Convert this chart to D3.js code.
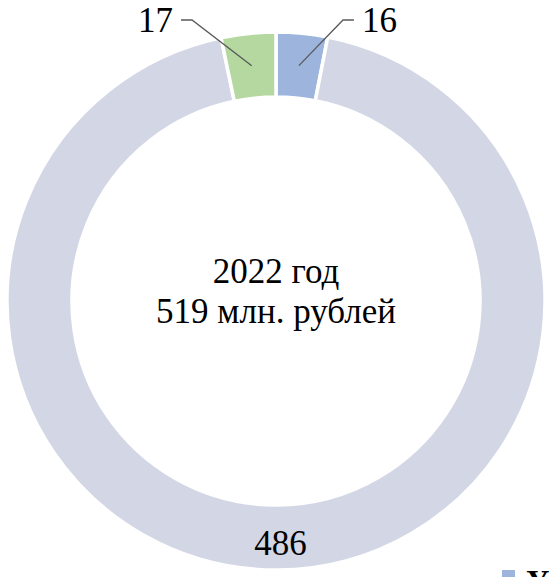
<!DOCTYPE html>
<html>
<head>
<meta charset="utf-8">
<script src="https://cdn.jsdelivr.net/npm/d3@7"></script>
</head>
<body style="margin:0">
<svg id="chart" width="549" height="577"></svg>
<script>
// Structure of 2022 amounts, mln. rubles
const categories = ["Уставный капитал", "Прочие средства", "Собственные средства"];
const values = [16, 486, 17];
const colors = ["#9db5dd", "#d3d6e5", "#b5d8a0"];
const centerLines = ["2022 год", "519 млн. рублей"];

const cx = 276, cy = 301;
const rOuter = 269, rInner = 204;
const fontSize = 35;

const svg = d3.select("#chart");
const g = svg.append("g").attr("transform", `translate(${cx},${cy})`);

const data = categories.map((c, i) => ({ name: c, value: values[i], color: colors[i] }));

const pie = d3.pie().value(d => d.value).sort(null);
const arc = d3.arc().innerRadius(rInner).outerRadius(rOuter);
const midR = (rInner + rOuter) / 2;
const midArc = d3.arc().innerRadius(midR).outerRadius(midR);

const arcs = pie(data);

g.selectAll("path.slice")
  .data(arcs)
  .join("path")
  .attr("class", "slice")
  .attr("d", arc)
  .attr("fill", d => d.data.color)
  .attr("stroke", "#fff")
  .attr("stroke-width", 3.5);

// Label records in page coordinates; texts are placed directly on the svg
const leaderY = cy - rOuter - 12;
const leaderX = { 0: 67, 2: -84 };   // elbow x offset from centre per slice
const tail = 11;
const labels = [];

arcs.forEach((a, i) => {
  const [mx, my] = midArc.centroid(a);
  if (leaderX[i] !== undefined) {
    const ex = cx + leaderX[i];
    const dir = leaderX[i] >= 0 ? 1 : -1;
    svg.append("polyline")
      .attr("points", [[cx + mx, cy + my], [ex, leaderY], [ex + dir * tail, leaderY]].map(p => p.join(",")).join(" "))
      .attr("fill", "none")
      .attr("stroke", "#595959")
      .attr("stroke-width", 1.3);
    labels.push({ text: String(a.data.value), x: ex + dir * (tail + 8), y: leaderY + 0.34 * fontSize,
                  anchor: dir > 0 ? "start" : "end", size: fontSize, weight: "normal" });
  } else {
    labels.push({ text: String(a.data.value), x: cx + mx + 3, y: cy + my + 0.5 * fontSize,
                  anchor: "middle", size: fontSize, weight: "normal" });
  }
});

// Centre caption
centerLines.forEach((line, i) => {
  labels.push({ text: line, x: cx, y: cy - 18 + i * 40, anchor: "middle", size: fontSize, weight: "normal" });
});

// Legend (continues beyond the lower right edge)
svg.append("rect")
  .attr("x", 502).attr("y", 570)
  .attr("width", 13).attr("height", 13)
  .attr("fill", colors[0]);
labels.push({ text: categories[0], x: 526, y: 592, anchor: "start", size: 32, weight: "bold" });

svg.selectAll("text.lbl")
  .data(labels)
  .join("text")
  .attr("class", "lbl")
  .attr("x", d => d.x)
  .attr("y", d => d.y)
  .attr("text-anchor", d => d.anchor)
  .attr("font-size", d => d.size)
  .attr("font-weight", d => d.weight)
  .style("font-family", '"Liberation Serif"')
  .text(d => d.text);
</script>
</body>
</html>
